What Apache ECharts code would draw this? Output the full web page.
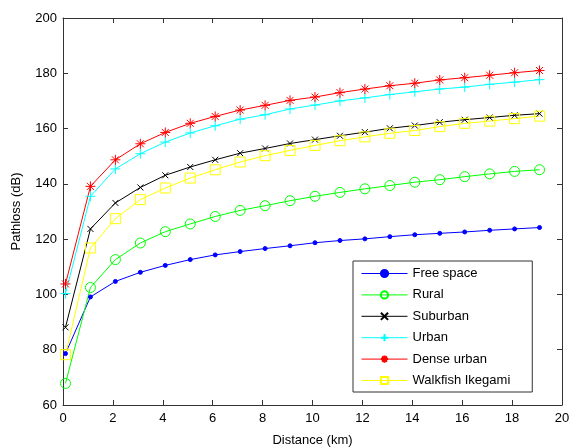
<!DOCTYPE html>
<html lang="en">
<head>
  <meta charset="UTF-8">
  <title>Pathloss vs Distance</title>
  <script src="https://cdn.jsdelivr.net/npm/echarts/dist/echarts.min.js"></script>
  <style>
    html, body { margin: 0; padding: 0; background: #fff; }
    #chart { width: 569px; height: 447px; }
  </style>
</head>
<body>
<div id="chart"></div>
<script>
    // distances (km) where each model was evaluated
    const distances = [0.1, 1.1, 2.1, 3.1, 4.1, 5.1, 6.1, 7.1, 8.1, 9.1,
                       10.1, 11.1, 12.1, 13.1, 14.1, 15.1, 16.1, 17.1, 18.1, 19.1];

    // pathloss values (dB)
    const freeSpace = [78.6, 99.1, 104.7, 108.0, 110.5, 112.6, 114.3, 115.5, 116.6, 117.6,
                       118.7, 119.5, 120.1, 120.9, 121.6, 122.1, 122.6, 123.2, 123.7, 124.2];
    const rural = [67.8, 102.5, 112.6, 118.6, 122.7, 125.5, 128.2, 130.4, 132.1, 133.9,
                   135.5, 136.9, 138.2, 139.4, 140.6, 141.5, 142.6, 143.6, 144.5, 145.1];
    const suburban = [88.1, 123.7, 133.1, 138.7, 143.1, 146.1, 148.7, 151.1, 152.8, 154.6,
                      156.0, 157.4, 158.7, 160.1, 161.1, 162.3, 163.2, 164.0, 164.8, 165.4];
    const urban = [100.3, 135.5, 145.4, 150.9, 155.1, 158.4, 161.0, 163.4, 165.0, 167.1,
                   168.5, 170.0, 171.1, 172.3, 173.3, 174.3, 175.0, 176.0, 176.8, 177.7];
    const denseUrban = [103.8, 139.1, 148.7, 154.5, 158.6, 161.9, 164.4, 166.7, 168.4, 170.2,
                        171.4, 173.0, 174.3, 175.5, 176.4, 177.6, 178.4, 179.3, 180.2, 181.0];
    const walfisch = [78.2, 116.8, 127.4, 134.3, 138.5, 142.1, 145.1, 147.9, 150.2, 152.1,
                      153.9, 155.6, 157.0, 158.3, 159.3, 160.7, 161.9, 162.7, 163.6, 164.5];

    const xTicks = { min: 0, max: 20, interval: 2 };
    const yTicks = { min: 60, max: 200, interval: 20 };

    const font = 'Liberation Sans, Arial, sans-serif';
    const axisColor = '#333';

    function pairs(values) {
        return values.map((v, i) => [distances[i], v]);
    }

    // MATLAB-like marker shapes
    const plusPath = 'path://M5,0L5,10M0,5L10,5';
    const crossPath = 'path://M0,0L10,10M0,10L10,0';
    const starPath = 'path://M5,0L5,10M0,5L10,5M1.5,1.5L8.5,8.5M1.5,8.5L8.5,1.5';

    function makeSeries(name, values, color, symbol, size, filled) {
        return {
            name: name,
            type: 'line',
            data: pairs(values),
            symbol: symbol,
            symbolSize: size,
            showAllSymbol: true,
            lineStyle: { color: color, width: 1 },
            itemStyle: {
                color: filled ? color : 'none',
                borderColor: color,
                borderWidth: 1
            },
            emphasis: { disabled: true },
            animation: false
        };
    }

    function baseAxis(ticks, position, withLabels) {
        return {
            type: 'value',
            position: position,
            min: ticks.min,
            max: ticks.max,
            interval: ticks.interval,
            axisLine: { show: true, onZero: false, lineStyle: { color: axisColor, width: 1 } },
            axisTick: { show: true, inside: true, length: 5, lineStyle: { color: axisColor } },
            axisLabel: { show: withLabels, color: '#000', fontSize: 13, fontFamily: font },
            splitLine: { show: false }
        };
    }

    const chart = echarts.init(document.getElementById('chart'));

    const xMain = Object.assign(baseAxis(xTicks, 'bottom', true), {
        name: 'Distance (km)',
        nameLocation: 'middle',
        nameGap: 29,
        nameTextStyle: { color: '#000', fontSize: 13, fontFamily: font }
    });
    xMain.axisLabel.margin = 7;
    const yMain = Object.assign(baseAxis(yTicks, 'left', true), {
        name: 'Pathloss (dB)',
        nameLocation: 'middle',
        nameGap: 40,
        nameTextStyle: { color: '#000', fontSize: 13, fontFamily: font }
    });
    yMain.axisLabel.margin = 6;

    const options = {
        backgroundColor: '#fff',
        animation: false,
        grid: { left: 63, right: 7, top: 18, bottom: 42, outerBoundsMode: 'none' },
        xAxis: [xMain, baseAxis(xTicks, 'top', false)],
        yAxis: [yMain, baseAxis(yTicks, 'right', false)],
        legend: {
            orient: 'vertical',
            left: 353,
            top: 261,
            itemWidth: 46,
            itemHeight: 9,
            itemGap: 8.4,
            padding: [6, 22, 5, 8],
            borderColor: '#333',
            borderWidth: 1,
            backgroundColor: '#fff',
            lineStyle: { width: 1 },
            textStyle: { color: '#000', fontSize: 13, fontFamily: font },
            data: ['Free space', 'Rural', 'Suburban', 'Urban', 'Dense urban', 'Walkfish Ikegami']
        },
        series: [
            makeSeries('Free space', freeSpace, '#0000ff', 'circle', 4, true),
            makeSeries('Rural', rural, '#00ff00', 'circle', 10, false),
            makeSeries('Suburban', suburban, '#000000', crossPath, 6, false),
            makeSeries('Urban', urban, '#00ffff', plusPath, 10, false),
            makeSeries('Dense urban', denseUrban, '#ff0000', starPath, 10, false),
            makeSeries('Walkfish Ikegami', walfisch, '#ffff00', 'rect', 10, false)
        ]
    };

    chart.setOption(options);
</script>
</body>
</html>
